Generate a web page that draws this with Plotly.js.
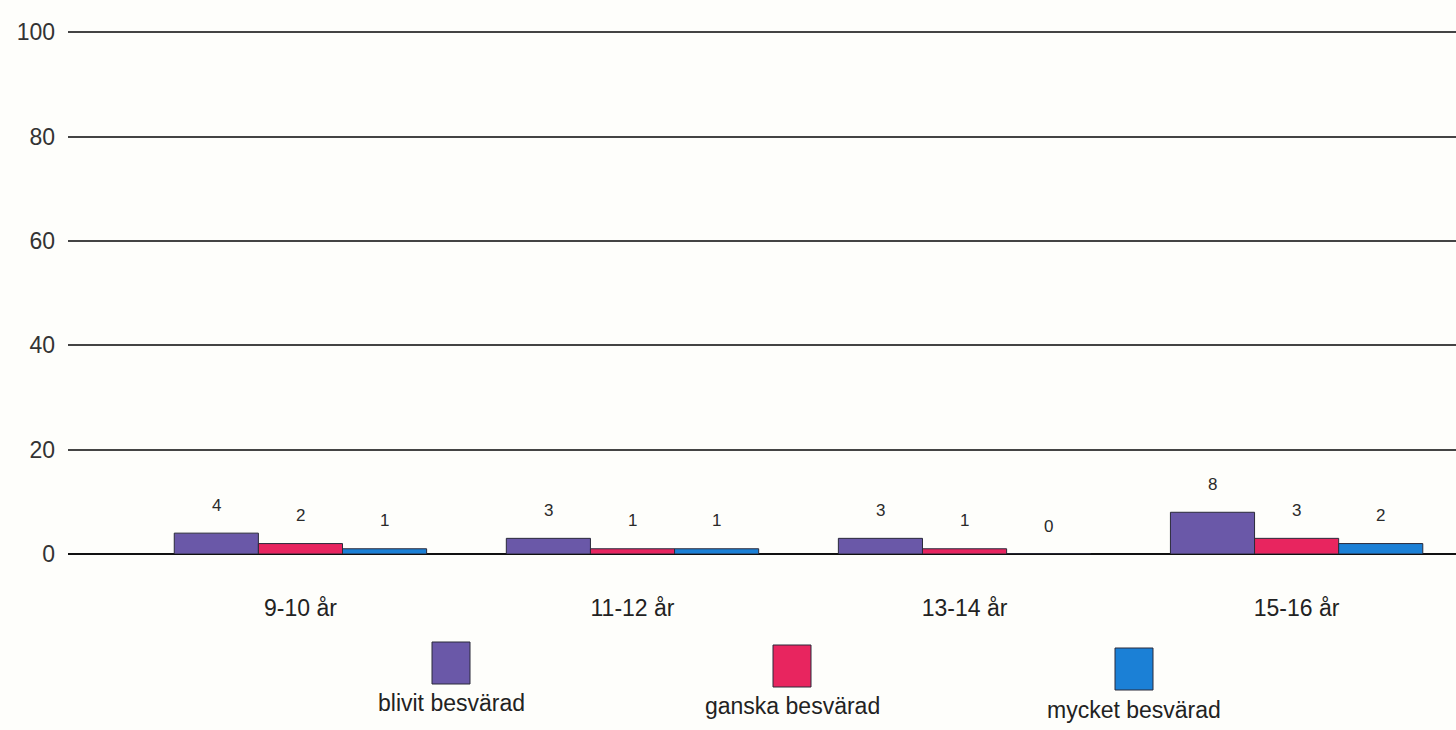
<!DOCTYPE html>
<html>
<head>
<meta charset="utf-8">
<script src="https://cdn.plot.ly/plotly-3.0.1.min.js"></script>
<style>
html,body{margin:0;padding:0;background:#fefefb;}
#chart{width:1456px;height:730px;}
</style>
</head>
<body>
<div id="chart"></div>
<script>
var categories = ["9-10 år", "11-12 år", "13-14 år", "15-16 år"];
var seriesNames = ["blivit besvärad", "ganska besvärad", "mycket besvärad"];
var blivit = [4, 3, 3, 8];
var ganska = [2, 1, 1, 3];
var mycket = [1, 1, 0, 2];
var yTicks = [0, 20, 40, 60, 80, 100];

var colors = ["#6a58a8", "#e8255f", "#1b80d6"];
var series = [blivit, ganska, mycket];

// plot geometry in pixels (for legend placement)
var L = 68, T = 22, W = 1388, H = 532;
function px(x) { return (x - L) / W; }
function py(y) { return (T + H - y) / H; }

var traces = series.map(function (vals, i) {
  return {
    type: "bar",
    name: seriesNames[i],
    x: categories,
    y: vals,
    marker: { color: colors[i], line: { color: "#2a2a3a", width: 1 } },
    showlegend: false,
    hoverinfo: "x+y+name"
  };
});

var bargap = 0.24;
var barW = (1 - bargap) / 3;
var annotations = [];
series.forEach(function (vals, i) {
  vals.forEach(function (v, j) {
    annotations.push({
      x: j + (i - 1) * barW, y: v, xref: "x", yref: "y",
      text: String(v), showarrow: false, yshift: 28,
      font: { family: "Liberation Sans, Arial, sans-serif", size: 17, color: "#2a2a2a" }
    });
  });
});

var legendPos = [
  { box: [432, 642], text: [451, 703] },
  { box: [773, 645], text: [792, 706] },
  { box: [1115, 648], text: [1134, 710] }
];
var shapes = [];
legendPos.forEach(function (p, i) {
  shapes.push({
    type: "rect", xref: "paper", yref: "paper",
    x0: px(p.box[0]), x1: px(p.box[0] + 38),
    y0: py(p.box[1]), y1: py(p.box[1] + 42),
    fillcolor: colors[i], line: { color: "#2a2a3a", width: 1 }
  });
  annotations.push({
    xref: "paper", yref: "paper", x: px(p.text[0]), y: py(p.text[1]),
    text: seriesNames[i], showarrow: false, xanchor: "center", yanchor: "middle",
    font: { family: "Liberation Sans, Arial, sans-serif", size: 23, color: "#222" }
  });
});

var layout = {
  width: 1456, height: 730,
  margin: { l: L, r: 1456 - L - W, t: T, b: 730 - T - H },
  paper_bgcolor: "#fefefb",
  plot_bgcolor: "#fefefb",
  barmode: "group",
  bargap: bargap,
  bargroupgap: 0,
  showlegend: false,
  font: { family: "Liberation Sans, Arial, sans-serif", color: "#333" },
  xaxis: {
    type: "category",
    range: [-0.7, 3.48],
    showgrid: false, zeroline: false, showline: false,
    ticks: "", ticklabelstandoff: 38,
    tickfont: { size: 23, color: "#222" }
  },
  yaxis: {
    range: [0, 102],
    tickvals: yTicks,
    ticktext: yTicks.map(String),
    showgrid: true, gridcolor: "#444", gridwidth: 2,
    zeroline: true, zerolinecolor: "#111", zerolinewidth: 2,
    showline: false, ticks: "",
    ticklabelstandoff: 12,
    tickfont: { size: 23, color: "#333" }
  },
  annotations: annotations,
  shapes: shapes
};

Plotly.newPlot("chart", traces, layout, { staticPlot: true });
</script>
</body>
</html>
